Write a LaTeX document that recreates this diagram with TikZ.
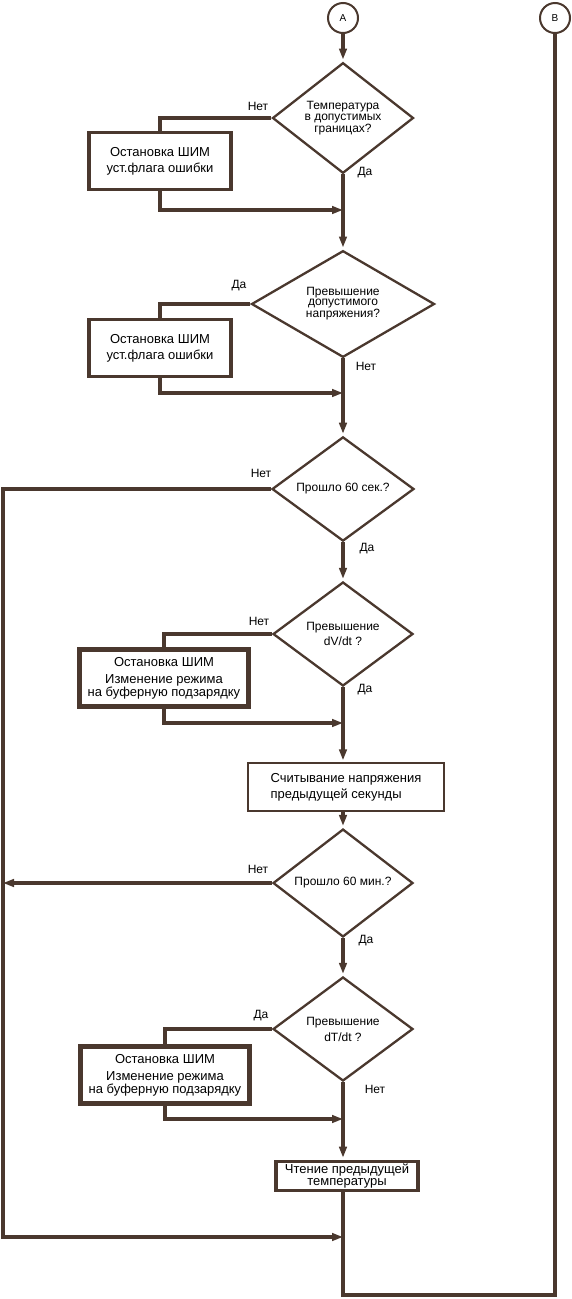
\documentclass[tikz,border=0pt]{standalone}
\usepackage{fontspec}
\setmainfont{Liberation Sans}
\usetikzlibrary{shapes.geometric,arrows.meta}
\definecolor{flowbrown}{RGB}{74,56,46}
\begin{document}
\begin{tikzpicture}[x=1pt, y=-1pt, line join=miter]
\useasboundingbox (0,0) rectangle (571,1299);
\fill[white] (0,0) rectangle (571,1299);

\tikzset{every node/.style={circle, draw=flowbrown, line width=2pt, minimum size=30pt, inner sep=0pt, font=\fontsize{10}{12}\selectfont}}
\node (A) at (343,18) {A};
\node (B) at (555,18) {B};

\tikzset{every node/.style={diamond, draw=flowbrown, line width=2.3pt, inner sep=0pt, align=center, font=\fontsize{12}{11.5}\selectfont}}
\node[minimum width=141pt, minimum height=105pt] (d1) at (343,118) {Температура\\в допустимых\\границах?};
\node[minimum width=183pt, minimum height=104pt, font=\fontsize{12}{10}\selectfont] (d2) at (343,304) {Превышение\\допустимого\\напряжения?};
\node[minimum width=142pt, minimum height=104pt] (d3) at (343,489) {Прошло 60 сек.?};
\node[minimum width=140pt, minimum height=104pt, font=\fontsize{12}{15}\selectfont] (d4) at (343,634) {Превышение\\dV/dt ?};
\node[minimum width=140pt, minimum height=106pt] (d5) at (343,883) {Прошло 60 мин.?};
\node[minimum width=140pt, minimum height=104pt, font=\fontsize{12}{16}\selectfont] (d6) at (343,1029) {Превышение\\dT/dt ?};

\tikzset{every node/.style={rectangle, draw=flowbrown, line width=3.6pt, inner sep=0pt, align=center, font=\fontsize{13}{16}\selectfont}}
\node[minimum width=142pt, minimum height=57pt] (b1) at (160,161) {Остановка ШИМ\\уст.флага ошибки};
\node[minimum width=142pt, minimum height=57pt] (b2) at (160,348) {Остановка ШИМ\\уст.флага ошибки};
\node[minimum width=169pt, minimum height=57pt, line width=4.5pt, font=\fontsize{13}{12}\selectfont] (b3) at (164,678) {Остановка ШИМ\\[5pt]Изменение режима\\на буферную подзарядку};
\node[minimum width=196pt, minimum height=48pt, line width=1.3pt, align=left] (b4) at (346,787) {Считывание напряжения\\ предыдущей секунды};
\node[minimum width=169pt, minimum height=57pt, line width=4.5pt, font=\fontsize{13}{12}\selectfont] (b5) at (165,1075) {Остановка ШИМ\\[5pt]Изменение режима\\на буферную подзарядку};
\node[minimum width=142pt, minimum height=29pt, font=\fontsize{13}{12}\selectfont] (b6) at (347,1176) {Чтение предыдущей\\температуры};

\tikzset{every node/.style={inner sep=0pt, font=\fontsize{12}{14}\selectfont}}
\node (no1) at (258,106) {Нет};
\node (yes1) at (365,173) {Да};
\node (yes2) at (239,286) {Да};
\node (no2) at (366,366) {Нет};
\node (no3) at (261,473) {Нет};
\node (yes3) at (367,549) {Да};
\node (no4) at (259,621) {Нет};
\node (yes4) at (365,690) {Да};
\node (no5) at (258,869) {Нет};
\node (yes5) at (366,941) {Да};
\node (yes6) at (261,1016) {Да};
\node (no6) at (375,1089) {Нет};

\coordinate (j1) at (343,210);
\coordinate (j2) at (343,393);
\coordinate (j3) at (343,723);
\coordinate (j4) at (343,1119);
\coordinate (j5) at (343,1237);
\coordinate (l1) at (3,489);
\coordinate (l2) at (3,1237);
\coordinate (l3) at (3,883);
\coordinate (c1) at (343,1295);
\coordinate (c2) at (555,1295);

\tikzset{flowline/.style={draw=flowbrown, line width=3.3pt}};
\tikzset{flowarrow/.style={flowline, -{Triangle[length=11pt,width=7.5pt]}, shorten >=2pt}};
\path (A) edge [flowarrow] (d1);
\path (d1) edge [flowarrow] (d2);
\path (d2) edge [flowarrow] (d3);
\path (d3) edge [flowarrow] (d4);
\path (d4) edge [flowarrow] (d4 |- b4.north);
\path (b4.south -| d5) edge [flowarrow] (d5);
\path (d5) edge [flowarrow] (d6);
\path (d6) edge [flowarrow] (d6 |- b6.north);

\tikzset{flowarrow/.style={flowline, -{Triangle[length=11pt,width=7.5pt]}}};
\draw[flowline] (d1.west) -| (b1.north);
\draw[flowarrow] (b1.south) |- (j1);
\draw[flowline] (d2.west) -| (b2.north);
\draw[flowarrow] (b2.south) |- (j2);
\draw[flowline] (d4.west) -| (b3.north);
\draw[flowarrow] (b3.south) |- (j3);
\draw[flowline] (d6.west) -| (b5.north);
\draw[flowarrow] (b5.south) |- (j4);

\draw[flowarrow] (d3.west) -- (l1) -- (l2) -- (j5);
\path (d5.west) edge [flowarrow] (l3);
\draw[flowline] (b6.south -| c1) -- (c1) -- (c2) -- (B.south);
\end{tikzpicture}
\end{document}
